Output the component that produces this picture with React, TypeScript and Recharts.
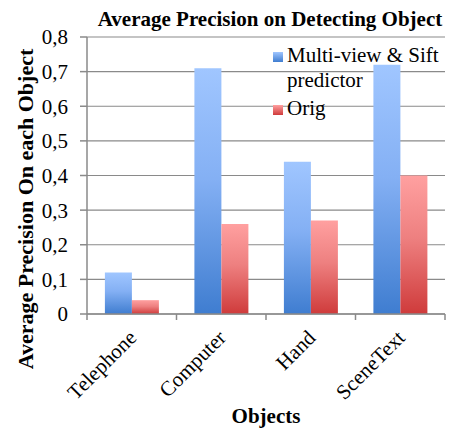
import React from "react";
import { BarChart, Bar, XAxis, YAxis, CartesianGrid, Legend } from "recharts";

const categories = ["Telephone", "Computer", "Hand", "SceneText"];
const multiView = [0.12, 0.71, 0.44, 0.72];
const orig = [0.04, 0.26, 0.27, 0.4];
const yTicks = [0, 0.1, 0.2, 0.3, 0.4, 0.5, 0.6, 0.7, 0.8];

const seriesNames = ["Multi-view & Sift predictor", "Orig"];
const seriesKeys = ["multi", "orig"];
const seriesGrad = [
  ["#a0c6ff", "#84b0f4", "#3f7dd0"],
  ["#ffa0a0", "#ee8080", "#cf3b3b"],
];

const data = categories.map((c, i) => ({ name: c, multi: multiView[i], orig: orig[i] }));

const FONT = "Liberation Serif";
const AXIS = "#8a8a8a";

const fmt = (v: number) => (v === 0 ? "0" : v.toFixed(1).replace(".", ","));

const wrap = (s: string, maxChars: number) => {
  const words = s.split(" ");
  const lines: string[] = [];
  let cur = "";
  words.forEach((w) => {
    const next = cur ? cur + " " + w : w;
    if (next.length > maxChars && cur) {
      lines.push(cur);
      cur = w;
    } else cur = next;
  });
  if (cur) lines.push(cur);
  return lines;
};

const XTick = (props: any) => {
  const { x, y, payload, index } = props;
  const half = payload && payload.offset ? payload.offset : 44.75;
  const ax = x + 6;
  const ay = y + 25;
  return (
    <g>
      <line x1={x - half} y1={y} x2={x - half} y2={y + 6} stroke={AXIS} strokeWidth={1.5} />
      {index === categories.length - 1 && (
        <line x1={x + half} y1={y} x2={x + half} y2={y + 6} stroke={AXIS} strokeWidth={1.5} />
      )}
      <text
        x={ax}
        y={ay}
        textAnchor="end"
        transform={`rotate(-45 ${ax} ${ay})`}
        fontFamily={FONT}
        fontSize={21}
        fill="#000"
      >
        {payload.value}
      </text>
    </g>
  );
};

const LegendContent = () => {
  let row = 0;
  const items = seriesNames.map((n, i) => {
    const lines = wrap(n, 17);
    const base = 18 + row * 25 + i * 3;
    row += lines.length;
    return (
      <g key={n}>
        <rect x={0} y={base - 10} width={10} height={10} fill={`url(#lg-${seriesKeys[i]})`} />
        <text x={14} y={base} fontFamily={FONT} fontSize={21} fill="#000">
          {lines.map((l, j) => (
            <tspan key={j} x={14} y={base + j * 25}>
              {l}
            </tspan>
          ))}
        </text>
      </g>
    );
  });
  return (
    <svg width={175} height={80} style={{ display: "block", overflow: "visible" }}>
      <defs>
        {seriesKeys.map((k, i) => (
          <linearGradient key={k} id={`lg-${k}`} x1="0" y1="0" x2="0" y2="1">
            <stop offset="0%" stopColor={seriesGrad[i][0]} />
            <stop offset="100%" stopColor={seriesGrad[i][2]} />
          </linearGradient>
        ))}
      </defs>
      {items}
    </svg>
  );
};

export default function App() {
  return (
    <div style={{ position: "absolute", left: 0, top: 0, width: 451, height: 430, background: "#fff" }}>
      <BarChart
        width={451}
        height={430}
        data={data}
        margin={{ top: 37, right: 6, bottom: 0, left: 0 }}
        barCategoryGap="20%"
        barGap={0}
      >
        <defs>
          {seriesKeys.map((k, i) => (
            <linearGradient key={k} id={`grad-${k}`} x1="0" y1="0" x2="0" y2="1">
              <stop offset="0%" stopColor={seriesGrad[i][0]} />
              <stop offset="45%" stopColor={seriesGrad[i][1]} />
              <stop offset="100%" stopColor={seriesGrad[i][2]} />
            </linearGradient>
          ))}
        </defs>
        <text
          x={270}
          y={26}
          textAnchor="middle"
          fontFamily={FONT}
          fontSize={21}
          fontWeight="bold"
          fill="#000"
        >
          Average Precision on Detecting Object
        </text>
        <CartesianGrid vertical={false} stroke={AXIS} strokeWidth={1.2} />
        <XAxis
          dataKey="name"
          height={116}
          axisLine={{ stroke: AXIS, strokeWidth: 1.5 }}
          tickLine={false}
          tickSize={0}
          tickMargin={0}
          interval={0}
          tick={<XTick />}
          label={{
            content: () => (
              <text
                x={266}
                y={423}
                textAnchor="middle"
                fontFamily={FONT}
                fontSize={21}
                fontWeight="bold"
                fill="#000"
              >
                Objects
              </text>
            ),
          }}
        />
        <YAxis
          width={87}
          domain={[0, 0.8]}
          ticks={yTicks}
          tickFormatter={fmt}
          axisLine={{ stroke: AXIS, strokeWidth: 1.5 }}
          tickLine={{ stroke: AXIS, strokeWidth: 1.5 }}
          tickSize={7}
          tickMargin={12}
          tick={{ fontSize: 21, fill: "#000", fontFamily: FONT }}
          label={{
            content: () => (
              <text
                x={33}
                y={209}
                textAnchor="middle"
                transform="rotate(-90 33 209)"
                fontFamily={FONT}
                fontSize={22}
                fontWeight="bold"
                fill="#000"
              >
                Average Precision On each Object
              </text>
            ),
          }}
        />
        <Legend
          layout="horizontal"
          verticalAlign="middle"
          align="center"
          content={<LegendContent />}
          wrapperStyle={{ position: "absolute", left: 273, top: 44, width: 175 }}
        />
        {seriesKeys.map((k, i) => (
          <Bar
            key={k}
            dataKey={k}
            name={seriesNames[i]}
            fill={`url(#grad-${k})`}
            isAnimationActive={false}
          />
        ))}
      </BarChart>
    </div>
  );
}
